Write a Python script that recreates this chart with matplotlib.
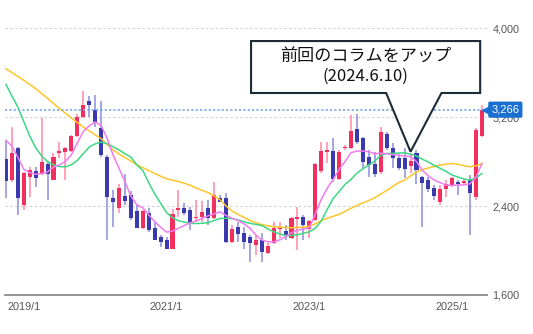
import numpy as np
import pandas as pd
import matplotlib
matplotlib.use("Agg")
import matplotlib.pyplot as plt
import matplotlib.transforms as mtransforms
from matplotlib.patches import Polygon

plt.rcParams['font.family'] = ['Liberation Sans', 'Noto Sans CJK JP', 'DejaVu Sans']

# monthly candles, 2018/10 - 2025/6
months = pd.date_range("2018-10-01", "2025-06-01", freq="MS")

opens = [2822, 2633, 2918, 2408, 2663, 2714, 2693, 2777, 2633, 2873, 2888, 2894,
         3032, 3197, 3344, 3263, 3098, 2843, 2468, 2378, 2489, 2498, 2354, 2204,
         2339, 2198, 2123, 2093, 2018, 2360, 2384, 2363, 2288, 2303, 2384, 2288,
         2468, 2468, 2078, 2213, 2153, 2123, 2048, 2093, 1982, 2063, 2198, 2177,
         2108, 2288, 2303, 2192, 2273, 2714, 2888, 2894, 2642, 2918, 2924, 3092,
         3014, 2843, 2777, 2702, 3047, 2924, 2828, 2828, 2762, 2873, 2663, 2633,
         2558, 2438, 2552, 2588, 2618, 2603, 2633, 2483, 3032]
highs = [2993, 3113, 2930, 2710, 2753, 2753, 3188, 2798, 2873, 2978, 2933, 3038,
         3230, 3434, 3390, 3400, 3346, 2858, 2543, 2594, 2684, 2534, 2408, 2360,
         2384, 2258, 2138, 2123, 2372, 2543, 2423, 2393, 2453, 2444, 2453, 2612,
         2498, 2513, 2228, 2258, 2213, 2138, 2138, 2153, 2063, 2252, 2258, 2228,
         2303, 2393, 2318, 2273, 2783, 2972, 2978, 3014, 2903, 2948, 3218, 3224,
         3023, 2903, 2888, 3113, 3068, 2963, 2870, 2924, 2873, 2903, 2672, 2663,
         2588, 2588, 2633, 2663, 2633, 2640, 2678, 3098, 3308]
lows = [2474, 2620, 2318, 2363, 2483, 2573, 2678, 2453, 2630, 2828, 2633, 2888,
        3020, 3190, 3200, 3113, 2843, 2093, 2213, 2333, 2408, 2273, 2198, 2195,
        2168, 2090, 2033, 2015, 2015, 2303, 2320, 2183, 2258, 2258, 2228, 2285,
        2440, 2063, 2070, 2078, 2018, 1898, 1958, 1898, 1973, 2054, 2108, 2093,
        2102, 2003, 2093, 2108, 2265, 2700, 2783, 2618, 2630, 2903, 2915, 2960,
        2738, 2663, 2663, 2690, 2900, 2738, 2720, 2648, 2693, 2594, 2213, 2530,
        2453, 2408, 2483, 2573, 2498, 2590, 2138, 2453, 3020]
closes = [2624, 2873, 2468, 2699, 2723, 2654, 2798, 2684, 2843, 2894, 2924, 3032,
          3197, 3308, 3308, 3158, 2858, 2483, 2432, 2558, 2447, 2288, 2204, 2354,
          2183, 2093, 2072, 2018, 2324, 2378, 2333, 2243, 2303, 2342, 2288, 2498,
          2438, 2072, 2192, 2144, 2078, 2063, 2093, 1988, 2042, 2204, 2210, 2138,
          2294, 2300, 2228, 2264, 2774, 2897, 2903, 2642, 2888, 2933, 3077, 2978,
          2798, 2768, 2684, 3068, 2918, 2834, 2738, 2732, 2804, 2723, 2603, 2552,
          2492, 2552, 2594, 2648, 2594, 2624, 2513, 3083, 3266]

# moving averages (6 / 12 / 24 months)
ma6 = [2990, 2940, 2840, 2730, 2700, 2686, 2690, 2706, 2750, 2770, 2800, 2860,
       2965, 3070, 3120, 3155, 3125, 3010, 2860, 2740, 2620, 2490, 2410, 2385,
       2320, 2260, 2210, 2165, 2175, 2200, 2225, 2250, 2265, 2290, 2312, 2330,
       2348, 2315, 2290, 2270, 2240, 2200, 2140, 2095, 2078, 2078, 2095, 2125,
       2160, 2183, 2192, 2205, 2330, 2460, 2560, 2640, 2730, 2800, 2880, 2894,
       2894, 2888, 2870, 2875, 2870, 2862, 2856, 2850, 2845, 2800, 2720, 2670,
       2633, 2610, 2588, 2585, 2588, 2590, 2600, 2660, 2783]
ma12 = [3495, 3390, 3290, 3160, 3030, 2925, 2850, 2800, 2770, 2755, 2752, 2770,
        2810, 2870, 2930, 2958, 2975, 2960, 2933, 2905, 2870, 2840, 2770, 2720,
        2610, 2510, 2425, 2340, 2295, 2268, 2255, 2245, 2242, 2245, 2250, 2270,
        2288, 2290, 2288, 2275, 2258, 2245, 2235, 2225, 2195, 2168, 2150, 2135,
        2135, 2142, 2155, 2168, 2200, 2265, 2370, 2468, 2530, 2595, 2640, 2695,
        2735, 2770, 2805, 2855, 2873, 2873, 2876, 2878, 2865, 2850, 2820, 2795,
        2765, 2738, 2710, 2678, 2660, 2643, 2633, 2655, 2693]
ma24 = [3634, 3600, 3565, 3530, 3493, 3456, 3412, 3368, 3322, 3277, 3234, 3192,
        3150, 3110, 3075, 3040, 3005, 2955, 2905, 2868, 2835, 2805, 2770, 2745,
        2720, 2692, 2668, 2645, 2633, 2620, 2605, 2585, 2562, 2540, 2520, 2490,
        2455, 2400, 2355, 2325, 2298, 2272, 2250, 2233, 2222, 2214, 2210, 2207,
        2205, 2207, 2210, 2218, 2240, 2270, 2290, 2308, 2325, 2352, 2380, 2405,
        2428, 2450, 2475, 2508, 2540, 2575, 2610, 2632, 2670, 2705, 2728, 2742,
        2755, 2768, 2776, 2782, 2775, 2762, 2753, 2762, 2780]

last_price = 3266
note_month = "2024-06-01"
note_lines = ["前回のコラムをアップ", "(2024.6.10)"]
year_ticks = ["2019-01-01", "2021-01-01", "2023-01-01", "2025-01-01"]
price_ticks = [1600, 2400, 3200, 4000]

RED = "#f2305f"
BLUE = "#3a3aae"
RED_WICK = "#ff86a6"
BLUE_WICK = "#8d8ddc"
TAG = "#1a6fd0"

x = np.arange(len(months))
o = np.array(opens, dtype=float)
h = np.array(highs, dtype=float)
l = np.array(lows, dtype=float)
c = np.array(closes, dtype=float)

fig = plt.figure(figsize=(5.33, 3.34), dpi=100)
ax = fig.add_axes([5 / 533, 39 / 334, 482 / 533, 295 / 334])
ax.set_xlim(-0.15, 80.85)
ax.set_ylim(1600, 4252)

# grid
for p in price_ticks[1:]:
    ax.axhline(p, color="#d2d2d2", lw=0.8, ls=(0, (2.2, 2.2)), zorder=1)

# candles
up = c >= o
body_lo = np.minimum(o, c)
raw_h = np.abs(c - o)
body_h = np.maximum(raw_h, 14)
body_lo = body_lo - (body_h - raw_h) / 2
ax.vlines(x, l, h, colors=np.where(up, RED_WICK, BLUE_WICK), lw=1.1, zorder=2)
ax.bar(x, body_h, width=0.68, bottom=body_lo, color=np.where(up, RED, BLUE),
       linewidth=0, zorder=3)

# moving averages
ax.plot(x, ma24, color="#ffc629", lw=1.1, zorder=4)
ax.plot(x, ma12, color="#3dd882", lw=1.1, zorder=4)
ax.plot(x, ma6, color="#f07cf0", lw=1.1, zorder=4)

# latest price line + tag
ax.axhline(last_price, xmax=0.995, color="#76a5e4", lw=1.2, ls=(0, (1.3, 1.3)), zorder=4)
blend = mtransforms.blended_transform_factory(ax.transAxes, ax.transData)
ax.plot([0.998], [last_price], marker="<", ms=5.5, color=TAG, transform=blend,
        clip_on=False, zorder=7)
ax.text(1.009, last_price, f"{last_price:,}", transform=blend, ha="left", va="center",
        fontsize=8, color="white", zorder=8, clip_on=False,
        bbox=dict(boxstyle="round,pad=0.28,rounding_size=0.15", fc=TAG, ec="none"))

# callout pointing at the candle of the previous column
ti = months.get_loc(pd.Timestamp(note_month))
tip = (x[ti], h[ti] + 15)
left, right = tip[0] - 26.8, tip[0] + 11.7
bottom, top = 3416, 3883
shape = [(left, bottom), (tip[0] - 4.1, bottom), tip, (tip[0] + 5.2, bottom),
         (right, bottom), (right, top), (left, top)]
ax.add_patch(Polygon(shape, closed=True, fc="white", ec="#1c2b36", lw=1.5,
                     joinstyle="miter", zorder=6))
cx = (left + right) / 2
ax.text(cx, 3739, note_lines[0], ha="center", va="center", fontsize=12.3,
        family=["Noto Sans CJK JP", "DejaVu Sans"], color="#111111", zorder=7)
ax.text(cx, 3568, note_lines[1], ha="center", va="center", fontsize=12,
        family=["Noto Sans CJK JP", "DejaVu Sans"], color="#111111", zorder=7)

# axes
for s in ["top", "left", "right"]:
    ax.spines[s].set_visible(False)
ax.spines["bottom"].set_color("#8c8c8c")
ax.spines["bottom"].set_linewidth(1.3)

tick_idx = [months.get_loc(pd.Timestamp(t)) for t in year_ticks]
ax.set_xticks(x[tick_idx])
ax.set_xticklabels([f"{months[i].year}/{months[i].month}" for i in tick_idx])
ax.yaxis.tick_right()
ax.set_yticks(price_ticks)
ax.set_yticklabels([f"{p:,}" for p in price_ticks])
ax.tick_params(axis="both", length=0, labelsize=7.8, labelcolor="#555555")
ax.tick_params(axis="x", pad=5)
ax.tick_params(axis="y", pad=4)

fig.savefig("out.png", dpi=100)
